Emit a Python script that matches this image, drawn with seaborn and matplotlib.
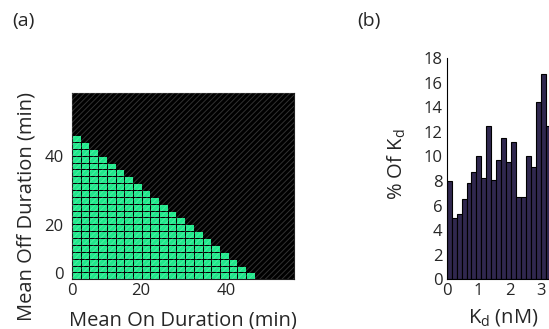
import numpy as np
import pandas as pd
import matplotlib
matplotlib.use('Agg')
import matplotlib.pyplot as plt
import seaborn as sns
from matplotlib.colors import ListedColormap
from matplotlib.patches import Rectangle

# Panel (a): number of green (feasible) cells in each grid row, bottom row first
green_per_row = [21, 20, 19, 18, 17, 16, 15, 14, 13, 12, 11,
                 10, 9, 8, 7, 6, 5, 4, 3, 2, 1]
grid_rows = 28
grid_cols = 26
on_ticks = [0, 7.9, 17.75]
on_labels = ['0', '20', '40']
off_ticks = [0.6, 7.6, 17.65]
off_labels = ['0', '20', '40']

# Panel (b): histogram of Kd (percent per bin)
kd_centers = [0.08, 0.24, 0.39, 0.55, 0.71, 0.86, 1.02, 1.18, 1.33, 1.49, 1.65,
              1.81, 1.96, 2.12, 2.28, 2.43, 2.59, 2.75, 2.90, 3.06, 3.22]
kd_pct = [8.0, 5.0, 5.3, 6.5, 7.8, 8.7, 10.0, 8.2, 12.5, 8.1, 9.7,
          11.5, 9.55, 11.15, 6.7, 6.7, 10.0, 9.15, 14.4, 16.7, 12.5]
kd_bin_width = 0.157
kd_ticks = [0, 1, 2, 3]
pct_ticks = [0, 2, 4, 6, 8, 10, 12, 14, 16, 18]

sns.set_style('white')
plt.rcParams['font.family'] = ['Open Sans', 'DejaVu Sans']
plt.rcParams['mathtext.fontset'] = 'custom'
plt.rcParams['mathtext.rm'] = 'Open Sans'
plt.rcParams['hatch.linewidth'] = 0.7
text_col = '#262626'

fig = plt.figure(figsize=(5.49, 3.29), dpi=100)

# ---- (a) heatmap ----
grid = np.zeros((grid_rows, grid_cols))
for r, n in enumerate(green_per_row):
    grid[r, :n] = 1
df = pd.DataFrame(grid)

ax1 = fig.add_axes([72 / 549, 1 - 279.3 / 329, 222 / 549, 186.8 / 329])
sns.heatmap(df, ax=ax1, cmap=ListedColormap(['black', '#1fe88b']), cbar=False,
            linewidths=0.7, linecolor='black', vmin=0, vmax=1)
ax1.set_xlim(0, 25.5)
ax1.set_ylim(0, 27.2)
ax1.add_patch(Rectangle((0, 0), 1, 1, transform=ax1.transAxes, facecolor='none',
                        edgecolor=(1, 1, 1, 0.2), hatch='//////', lw=0, zorder=5))
ax1.set_xticks(on_ticks)
ax1.set_xticklabels(on_labels, rotation=0)
ax1.set_yticks(off_ticks)
ax1.set_yticklabels(off_labels, rotation=0)
ax1.tick_params(length=0, labelsize=12, colors=text_col)
ax1.tick_params(axis='x', pad=3)
ax1.tick_params(axis='y', pad=6)
for s in ax1.spines.values():
    s.set_visible(True)
    s.set_color('#202020')
    s.set_linewidth(0.8)
ax1.set_xlabel('Mean On Duration (min)', fontsize=14.5, color=text_col)
ax1.set_ylabel('Mean Off Duration (min)', fontsize=14.5, color=text_col)
ax1.xaxis.set_label_coords(0.5, -0.165)
ax1.yaxis.set_label_coords(-0.16, 0.39)

# ---- (b) histogram ----
kd_df = pd.DataFrame({'kd': kd_centers, 'pct': kd_pct})
ax2 = fig.add_axes([446.7 / 549, 1 - 279.3 / 329, 104 / 549, 221.3 / 329])
bins = [kd_bin_width * i for i in range(len(kd_pct) + 1)]
sns.histplot(data=kd_df, x='kd', weights='pct', bins=bins, ax=ax2,
             color='#30284f', edgecolor='black', linewidth=0.8, alpha=1)
ax2.set_xlim(0, kd_bin_width * len(kd_pct))
ax2.set_ylim(0, 18)
ax2.set_xticks(kd_ticks)
ax2.set_yticks(pct_ticks)
sns.despine(ax=ax2)
for s in ['left', 'bottom']:
    ax2.spines[s].set_color('black')
    ax2.spines[s].set_linewidth(0.8)
ax2.tick_params(direction='in', length=3, width=0.8, labelsize=12, colors=text_col)
ax2.tick_params(axis='x', pad=3)
ax2.tick_params(axis='y', pad=3)
ax2.set_xlabel(r'$\mathregular{K_d}$ (nM)', fontsize=14.5, color=text_col)
ax2.set_ylabel(r'% Of $\mathregular{K_d}$', fontsize=14.5, color=text_col)
ax2.xaxis.set_label_coords(0.54, -0.125)
ax2.yaxis.set_label_coords(-0.37, 0.52)

fig.text(12 / 549, 1 - 21 / 329, '(a)', fontsize=14, color=text_col, va='center')
fig.text(357 / 549, 1 - 21 / 329, '(b)', fontsize=14, color=text_col, va='center')

fig.savefig('out.png', dpi=100)
